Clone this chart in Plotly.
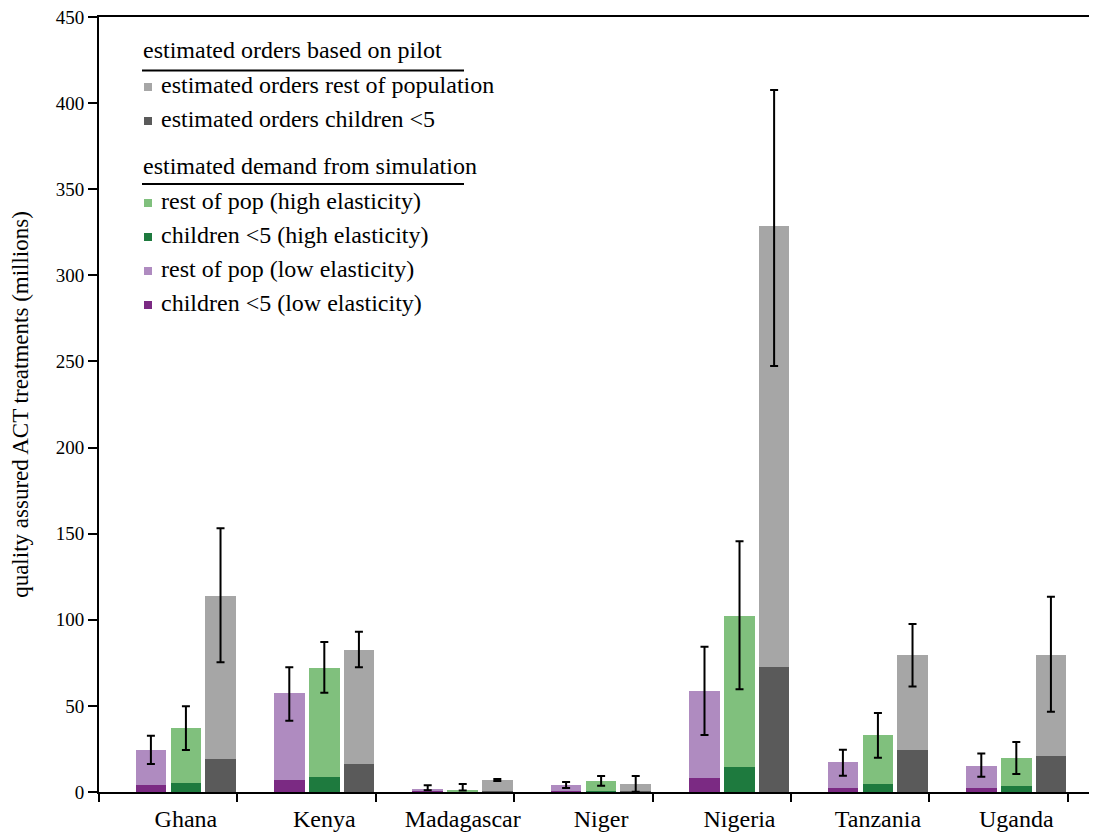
import plotly.graph_objects as go

countries = ["Ghana", "Kenya", "Madagascar", "Niger", "Nigeria", "Tanzania", "Uganda"]

# low elasticity (simulation)
low_children = [4.1, 7.0, 0.3, 0.5, 8.1, 2.3, 2.3]
low_rest = [20.3, 50.5, 1.2, 3.6, 50.5, 15.1, 12.8]
low_err_lo = [16.3, 41.4, 1.0, 2.3, 33.1, 9.5, 8.9]
low_err_hi = [32.7, 72.4, 3.9, 5.8, 84.4, 24.6, 22.3]

# high elasticity (simulation)
high_children = [5.2, 8.7, 0.3, 0.5, 14.5, 4.6, 3.5]
high_rest = [32.0, 63.3, 1.0, 5.9, 87.7, 28.5, 16.2]
high_err_lo = [24.4, 57.7, 0.8, 3.7, 59.6, 19.9, 10.5]
high_err_hi = [49.8, 87.1, 4.6, 9.3, 145.6, 45.9, 29.0]

# estimated orders based on pilot
ord_children = [19.2, 16.3, 0.4, 0.4, 72.6, 24.4, 20.9]
ord_rest = [94.6, 66.2, 6.6, 4.2, 256.0, 55.1, 58.6]
ord_err_lo = [75.3, 72.4, 6.4, 0.2, 247.4, 61.2, 46.6]
ord_err_hi = [153.1, 93.1, 7.5, 9.3, 407.6, 97.5, 113.4]

legend_header1 = "estimated orders based on pilot"
legend_header2 = "estimated demand from simulation"

COL = {
    "low_c": "#7B2A83", "low_r": "#AF8BC0",
    "high_c": "#1E7A3E", "high_r": "#80C07D",
    "ord_c": "#5A5A5A", "ord_r": "#A6A6A6",
}
FONT = "Liberation Serif"

# page has an 8px body margin
OFF = 8
W, H = 1097 - OFF, 834 - OFF
ML, MR, MT, MB = 99 - OFF, 0, 17 - OFF, 42
PW, PH = W - ML - MR, H - MT - MB

def px2paper(x, y):
    return (x - OFF - ML) / PW, 1 - (y - OFF - MT) / PH

offsets = {"low": 0.375, "high": 0.628, "ord": 0.878}
bw = 0.22

fig = go.Figure()
series = [
    ("low", low_children, low_rest, low_err_lo, low_err_hi),
    ("high", high_children, high_rest, high_err_lo, high_err_hi),
    ("ord", ord_children, ord_rest, ord_err_lo, ord_err_hi),
]
for key, ch, rest, elo, ehi in series:
    xs = [i + offsets[key] for i in range(len(countries))]
    fig.add_trace(go.Bar(x=xs, y=ch, width=bw, marker=dict(color=COL[key + "_c"], line=dict(width=0)),
                         showlegend=False, hoverinfo="skip"))
    fig.add_trace(go.Bar(x=xs, y=rest, width=bw, marker=dict(color=COL[key + "_r"], line=dict(width=0)),
                         showlegend=False, hoverinfo="skip"))
    tot = [c + r for c, r in zip(ch, rest)]
    fig.add_trace(go.Scatter(
        x=xs, y=tot, mode="markers", marker=dict(opacity=0, size=1),
        error_y=dict(type="data", symmetric=False,
                     array=[h - t for h, t in zip(ehi, tot)],
                     arrayminus=[t - l for t, l in zip(tot, elo)],
                     color="black", thickness=2, width=4),
        showlegend=False, hoverinfo="skip"))

shapes = []
annotations = []
LEG_SIZE = 24
TXT_DY = -2.5

def header(text, y_text, y_line):
    x0, y0 = px2paper(141, y_text + TXT_DY)
    annotations.append(dict(x=x0, y=y0, xref="paper", yref="paper", text=text, showarrow=False,
                            xanchor="left", yanchor="middle", font=dict(family=FONT, size=LEG_SIZE, color="black")))
    a, b = px2paper(142, y_line)
    c, _ = px2paper(464, y_line)
    shapes.append(dict(type="line", xref="paper", yref="paper", x0=a, x1=c, y0=b, y1=b,
                       line=dict(color="black", width=2)))

def item(text, color, y):
    sx0, sy0 = px2paper(144, y - 4)
    sx1, sy1 = px2paper(152, y + 4)
    shapes.append(dict(type="rect", xref="paper", yref="paper", x0=sx0, x1=sx1, y0=sy0, y1=sy1,
                       fillcolor=color, line=dict(width=0)))
    tx, ty = px2paper(159, y + TXT_DY)
    annotations.append(dict(x=tx, y=ty, xref="paper", yref="paper", text=text, showarrow=False,
                            xanchor="left", yanchor="middle", font=dict(family=FONT, size=LEG_SIZE, color="black")))

header(legend_header1, 53, 70.5)
item("estimated orders rest of population", COL["ord_r"], 87)
item("estimated orders children <5", COL["ord_c"], 121)
header(legend_header2, 168, 184)
item("rest of pop (high elasticity)", COL["high_r"], 203)
item("children <5 (high elasticity)", COL["high_c"], 237)
item("rest of pop (low elasticity)", COL["low_r"], 271)
item("children <5 (low elasticity)", COL["low_c"], 305)

fig.update_layout(
    width=W, height=H,
    margin=dict(l=ML, r=MR, t=MT, b=MB, pad=0),
    barmode="stack",
    plot_bgcolor="white", paper_bgcolor="white",
    font=dict(family=FONT, size=20, color="black"),
    shapes=shapes, annotations=annotations,
    showlegend=False,
    xaxis=dict(
        range=[0, PW / 138.4],
        tickmode="array",
        tickvals=[i + offsets["high"] for i in range(len(countries))],
        ticktext=countries,
        ticks="",
        ticklabelstandoff=4,
        tickfont=dict(family=FONT, size=24),
        showline=True, linecolor="black", linewidth=2, mirror=True,
        showgrid=False, zeroline=False,
        minor=dict(tickmode="array", tickvals=list(range(len(countries) + 1)),
                   ticks="outside", ticklen=8, tickwidth=2, tickcolor="black", showgrid=False),
    ),
    yaxis=dict(
        range=[0, 450], tickmode="linear", tick0=0, dtick=50,
        ticks="outside", ticklen=9, tickwidth=2, tickcolor="black",
        tickfont=dict(family=FONT, size=19),
        ticklabeloverflow="allow",
        showline=True, linecolor="black", linewidth=2,
        showgrid=False, zeroline=False,
        title=dict(text="quality assured ACT treatments (millions)", font=dict(family=FONT, size=23), standoff=24),
    ),
)

fig.write_html("out.html")
